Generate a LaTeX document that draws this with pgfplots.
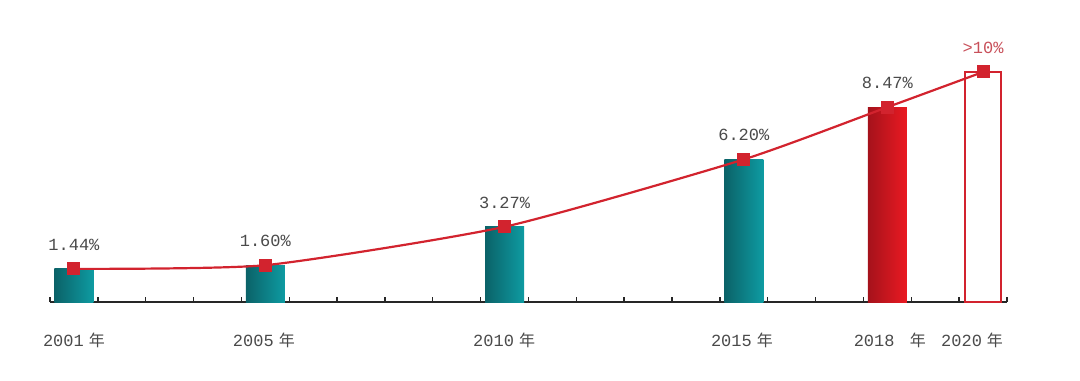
\documentclass[border=0pt]{standalone}
\usepackage{pgfplots}
\pgfplotsset{compat=1.18}
\usepackage{fontspec}
\newfontfamily\mono{Liberation Mono}
\newfontfamily\cjk{Noto Sans CJK SC}
\definecolor{tealL}{HTML}{0B6268}
\definecolor{tealR}{HTML}{0E9BA2}
\definecolor{redL}{HTML}{A5121B}
\definecolor{redR}{HTML}{EA1A22}
\definecolor{lred}{HTML}{D2232E}
\definecolor{pred}{HTML}{C8505A}
\definecolor{tgray}{HTML}{4A4A4A}
\begin{document}
\begin{tikzpicture}
\path[use as bounding box] (-50bp,-79bp) rectangle (1030bp,302bp);
\begin{axis}[
  at={(0,0)}, anchor=south west,
  scale only axis, width=957bp, height=302bp,
  xmin=2000.5, xmax=2020.5, ymin=0, ymax=13.13,
  clip=false,
  axis x line*=bottom, axis y line=none,
  xtick={2000.5,2001.5,...,2020.5}, xticklabel=\empty,
  ytick=\empty,
  tick align=inside, major tick length=5bp,
  x axis line style={line width=1.8bp, color=black!85},
  xtick style={line width=1.4bp, color=black!85},
  tealbar/.style={ybar, bar width=39bp, bar shift=0pt, draw=none, left color=tealL, right color=tealR},
]
\addplot[tealbar] coordinates {(2001,1.44)};
\addplot[tealbar] coordinates {(2005,1.60)};
\addplot[tealbar] coordinates {(2010,3.27)};
\addplot[tealbar] coordinates {(2015,6.20)};
\addplot[ybar, bar width=39bp, bar shift=0pt, draw=none, left color=redL, right color=redR]
  coordinates {(2018,8.47)};
\addplot[ybar, bar width=36bp, bar shift=0pt, draw=lred, line width=1.5bp, fill=white]
  coordinates {(2020,10)};
\addplot[color=lred, line width=2.2bp, smooth, tension=0.35, mark=square*, mark size=6bp, mark options={fill=lred, draw=lred, line width=0pt}]
  coordinates {(2001,1.44) (2005,1.60) (2010,3.27) (2015,6.20) (2018,8.47) (2020,10)};
\addplot[draw=none, mark=none, nodes near coords, point meta=explicit symbolic,
  every node near coord/.append style={anchor=center, yshift=24bp, inner sep=0pt, text=tgray, font=\mono\fontsize{17bp}{20bp}\selectfont}]
  coordinates {(2001,1.44)[1.44\%] (2005,1.60)[1.60\%] (2010,3.27)[3.27\%] (2015,6.20)[6.20\%] (2018,8.47)[8.47\%]};
\addplot[draw=none, mark=none, nodes near coords, point meta=explicit symbolic,
  every node near coord/.append style={anchor=center, yshift=24bp, inner sep=0pt, text=pred, font=\mono\fontsize{17bp}{20bp}\selectfont}]
  coordinates {(2020,10)[>10\%]};
\foreach \xx/\lab in {2001/2001, 2004.97/2005, 2009.99/2010, 2014.96/2015, 2018.05/2018\ , 2019.77/2020}{
  \edef\tmp{\noexpand\node[text=tgray, inner sep=0pt, anchor=center] at (axis cs:\xx,-1.65) {{\noexpand\mono\noexpand\fontsize{17bp}{20bp}\noexpand\selectfont \lab}\noexpand\hspace{5bp}{\noexpand\cjk\noexpand\fontsize{16bp}{20bp}\noexpand\selectfont 年}};}
  \tmp
}
\end{axis}
\end{tikzpicture}
\end{document}
